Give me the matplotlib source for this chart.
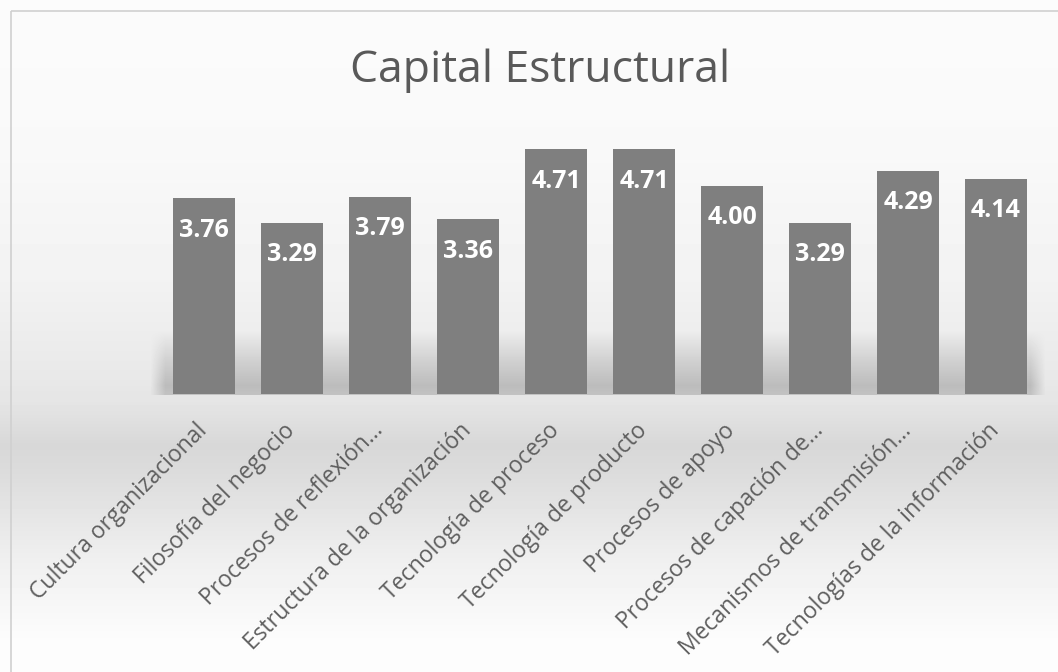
import numpy as np
import matplotlib
matplotlib.use('Agg')
import matplotlib.pyplot as plt
from matplotlib.patches import Rectangle

categorias = ['Cultura organizacional', 'Filosofía del negocio', 'Procesos de reflexión...',
              'Estructura de la organización', 'Tecnología de proceso', 'Tecnología de producto',
              'Procesos de apoyo', 'Procesos de capación de...', 'Mecanismos de transmisión...',
              'Tecnologías de la información']
valores = [3.76, 3.29, 3.79, 3.36, 4.71, 4.71, 4.00, 3.29, 4.29, 4.14]

W, H = 1058, 672
plt.rcParams['font.family'] = ['Open Sans', 'DejaVu Sans']
fig = plt.figure(figsize=(W / 100, H / 100), dpi=100)
fig.patch.set_facecolor('white')

# fondo degradado estilo Excel
bg = fig.add_axes([0, 0, 1, 1], zorder=-1)
yy = np.arange(H)
gy = np.interp(yy, [0, 150, 280, 380, 394, 400, 445, 470, 560, 640],
               [0.985, 0.975, 0.95, 0.91, 0.90, 0.90, 0.845, 0.86, 0.94, 0.99])
img = np.repeat(gy[:, None], W, axis=1)
# sombra suave detras de las barras
sh = np.interp(yy, [330, 360, 385, 394, 395], [0.0, 0.10, 0.17, 0.14, 0.0])
xs = np.arange(W)
shx = np.clip(np.minimum(xs - 150, 1045 - xs) / 15.0, 0, 1)
img = img - sh[:, None] * shx[None, :]
bg.imshow(img, cmap='gray', vmin=0, vmax=1, aspect='auto', extent=[0, W, H, 0],
          interpolation='bilinear')
bg.set_xlim(0, W)
bg.set_ylim(H, 0)
bg.axis('off')
bg.add_patch(Rectangle((11, 11), W, H, fill=False, edgecolor='#d0d0d0', lw=1.2))

ax = fig.add_axes([160 / W, (H - 394) / H, 880 / W, 260 / H])
ax.patch.set_alpha(0)
x = np.arange(len(categorias))
bars = ax.bar(x, valores, width=0.705, color='#7f7f7f', zorder=2)
for xi, v in zip(x, valores):
    ax.annotate('%.2f' % v, (xi, v), xytext=(0, -23), textcoords='offset points',
                ha='center', va='center', color='white', fontsize=18, fontweight='bold')

ax.set_xlim(-0.5, 9.5)
ax.set_ylim(0, 5)
ax.set_yticks([])
ax.set_xticks(x)
ax.set_xticklabels(categorias, rotation=45, ha='right', va='center',
                   rotation_mode='anchor', fontsize=16.5, color='#5f5f5f')
ax.tick_params(axis='x', length=0, pad=24)
for s in ax.spines.values():
    s.set_visible(False)

fig.text(540 / W, 1 - 82 / H, 'Capital Estructural', ha='center', va='baseline',
         fontsize=32, color='#595959')

plt.savefig('out.png', dpi=100)
